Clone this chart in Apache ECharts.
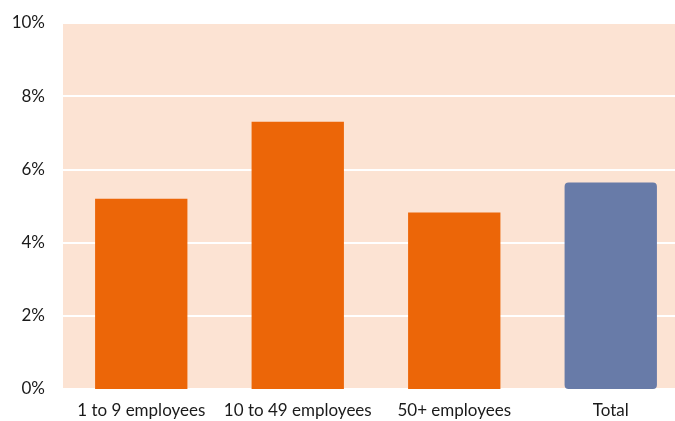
<!DOCTYPE html>
<html><head><meta charset="utf-8">
<script src="https://cdn.jsdelivr.net/npm/echarts@6/dist/echarts.min.js"></script>
<style>html,body{margin:0;padding:0;background:#fff;overflow:hidden}#c{width:689px;height:421px}</style>
</head><body><div id="c"></div>
<script>
const categories = ["1 to 9 employees", "10 to 49 employees", "50+ employees", "Total"];
const values = [5.2, 7.3, 4.82, 5.64];
const barColors = ["#EC6608", "#EC6608", "#EC6608", "#687BA8"];
const yTicks = [0, 2, 4, 6, 8, 10];

const chart = echarts.init(document.getElementById('c'));
chart.setOption({
  animation: false,
  grid: { left: 63, right: 0, top: 23, bottom: 32, show: true, backgroundColor: '#FCE3D3', borderWidth: 0 },
  xAxis: {
    type: 'category', data: categories,
    axisLine: { show: false }, axisTick: { show: false },
    axisLabel: { interval: 0, color: '#1a1a1a', fontSize: 17, fontFamily: 'Lato, sans-serif', margin: 13 }
  },
  yAxis: {
    type: 'value', min: yTicks[0], max: yTicks[yTicks.length - 1], interval: 2,
    axisLine: { show: false }, axisTick: { show: false },
    axisLabel: { color: '#1a1a1a', fontSize: 17, fontFamily: 'Lato, sans-serif', margin: 18, formatter: v => v + '%' },
    splitLine: { lineStyle: { color: '#ffffff', width: 2 } }
  },
  series: [{
    type: 'bar', barWidth: '59%',
    data: values.map((v, i) => ({
      value: v,
      itemStyle: i === 3
        ? { color: barColors[i], borderRadius: 2, borderColor: '#687BA8', borderWidth: 4 }
        : { color: barColors[i] }
    }))
  }]
});
</script></body></html>
